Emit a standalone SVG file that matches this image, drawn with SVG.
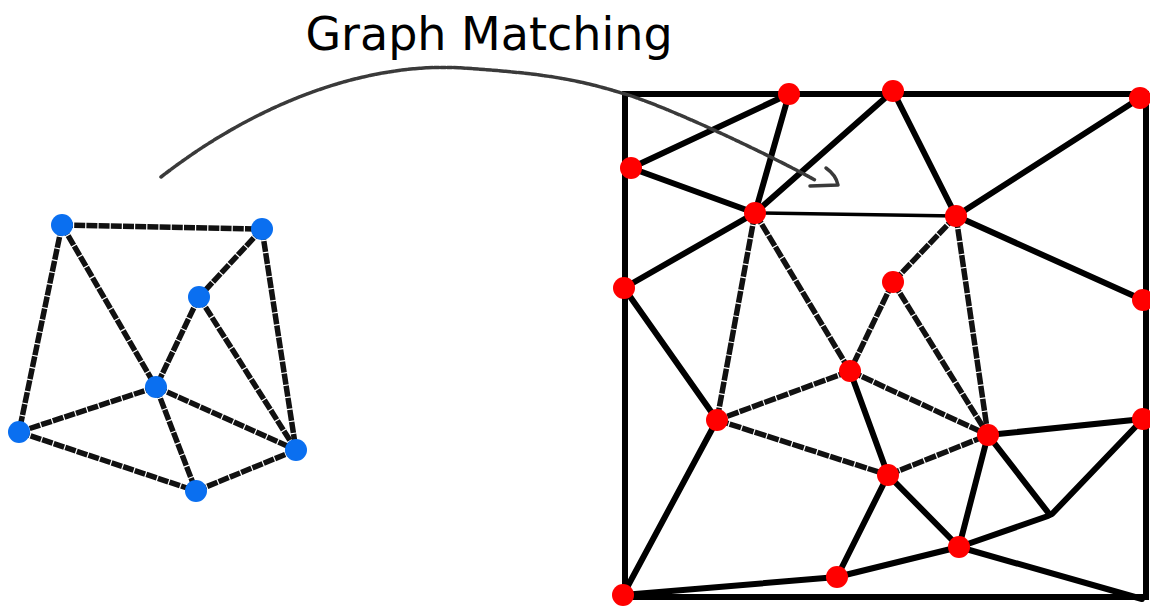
<svg xmlns="http://www.w3.org/2000/svg" width="1150" height="610" viewBox="0 0 1150 610">
<style>
.bg{fill:#fff}
.title{font-family:"DejaVu Sans","Liberation Sans",sans-serif;font-size:46px;fill:#000}
.le{stroke:#111;stroke-width:5.5;stroke-dasharray:11 1.2;fill:none;stroke-linecap:butt}
.re{stroke:#000;stroke-width:6;fill:none;stroke-linecap:round}
.rd{stroke:#111;stroke-width:5.5;stroke-dasharray:12 1.2;fill:none;stroke-linecap:butt}
.frame{stroke:#000;stroke-width:6;fill:none}
.arrow{stroke:#3a3a3a;stroke-width:3.5;stroke-dasharray:5 1.5;fill:none;stroke-linecap:round}
.bn{fill:#0a6ff0}
.rn{fill:#f00}
</style>
<rect class="bg" x="0" y="0" width="1150" height="610"/>
<text class="title" x="489" y="50" text-anchor="middle">Graph Matching</text>

<g id="frame">
<rect class="frame" x="625" y="94" width="521" height="503"/>
</g>

<g id="connectors">
<!-- left graph -->
<line class="le" x1="62" y1="225" x2="262" y2="229"/>
<line class="le" x1="62" y1="225" x2="19" y2="432"/>
<line class="le" x1="62" y1="225" x2="156" y2="387"/>
<line class="le" x1="262" y1="229" x2="199" y2="297"/>
<line class="le" x1="262" y1="229" x2="296" y2="450"/>
<line class="le" x1="199" y1="297" x2="156" y2="387"/>
<line class="le" x1="199" y1="297" x2="296" y2="450"/>
<line class="le" x1="156" y1="387" x2="19" y2="432"/>
<line class="le" x1="156" y1="387" x2="296" y2="450"/>
<line class="le" x1="156" y1="387" x2="196" y2="491"/>
<line class="le" x1="19" y1="432" x2="196" y2="491"/>
<line class="le" x1="196" y1="491" x2="296" y2="450"/>
<!-- right graph -->
<line class="re" x1="631" y1="168" x2="789" y2="94"/>
<line class="re" x1="789" y1="94" x2="755" y2="213"/>
<line class="re" x1="893" y1="91" x2="755" y2="213"/>
<line class="re" x1="631" y1="168" x2="755" y2="213"/>
<line class="re" style="stroke-width:3.5" x1="755" y1="213" x2="956" y2="216"/>
<line class="re" x1="755" y1="213" x2="624" y2="288"/>
<line class="re" x1="624" y1="288" x2="717" y2="420"/>
<line class="rd" x1="755" y1="213" x2="717" y2="420"/>
<line class="rd" x1="755" y1="213" x2="850" y2="371"/>
<line class="re" x1="893" y1="91" x2="956" y2="216"/>
<line class="re" x1="956" y1="216" x2="1140" y2="98"/>
<line class="re" x1="956" y1="216" x2="1143" y2="300"/>
<line class="rd" x1="956" y1="216" x2="893" y2="282"/>
<line class="rd" x1="956" y1="216" x2="988" y2="435"/>
<line class="rd" x1="893" y1="282" x2="850" y2="371"/>
<line class="rd" x1="893" y1="282" x2="988" y2="435"/>
<line class="rd" x1="850" y1="371" x2="717" y2="420"/>
<line class="rd" x1="717" y1="420" x2="888" y2="475"/>
<line class="re" x1="717" y1="420" x2="623" y2="595"/>
<line class="re" x1="850" y1="371" x2="888" y2="475"/>
<line class="rd" x1="850" y1="371" x2="988" y2="435"/>
<line class="re" x1="888" y1="475" x2="837" y2="577"/>
<line class="re" x1="837" y1="577" x2="623" y2="595"/>
<line class="re" x1="837" y1="577" x2="959" y2="547"/>
<line class="re" x1="988" y1="435" x2="1143" y2="419"/>
<line class="re" x1="988" y1="435" x2="959" y2="547"/>
<line class="re" x1="988" y1="435" x2="1050" y2="515"/>
<line class="re" x1="1143" y1="419" x2="1052" y2="514"/>
<line class="re" x1="959" y1="547" x2="1048" y2="516"/>
<line class="rd" x1="888" y1="475" x2="988" y2="435"/>
<line class="re" x1="888" y1="475" x2="959" y2="547"/>
<line class="re" x1="959" y1="547" x2="1142" y2="599"/>
<!-- matching arrow -->
<path class="arrow" d="M161 177 C260 100 370 62 463 68 S585 82 625 94 S760 150 815 180"/>
<path class="arrow" style="stroke-dasharray:none;stroke-width:3.5" d="M810 186 L838 185 M826 168 Q836 175 838 185"/>
</g>

<g id="L1"><circle class="bn" cx="62" cy="225" r="11"/></g>
<g id="L2"><circle class="bn" cx="262" cy="229" r="11"/></g>
<g id="L3"><circle class="bn" cx="199" cy="297" r="11"/></g>
<g id="L4"><circle class="bn" cx="156" cy="387" r="11"/></g>
<g id="L5"><circle class="bn" cx="19" cy="432" r="11"/></g>
<g id="L6"><circle class="bn" cx="296" cy="450" r="11"/></g>
<g id="L7"><circle class="bn" cx="196" cy="491" r="11"/></g>

<g id="R1"><circle class="rn" cx="789" cy="94" r="11"/></g>
<g id="R2"><circle class="rn" cx="893" cy="91" r="11"/></g>
<g id="R3"><circle class="rn" cx="1140" cy="98" r="11"/></g>
<g id="R4"><circle class="rn" cx="631" cy="168" r="11"/></g>
<g id="R5"><circle class="rn" cx="755" cy="213" r="11"/></g>
<g id="R6"><circle class="rn" cx="956" cy="216" r="11"/></g>
<g id="R7"><circle class="rn" cx="624" cy="288" r="11"/></g>
<g id="R8"><circle class="rn" cx="893" cy="282" r="11"/></g>
<g id="R9"><circle class="rn" cx="1143" cy="300" r="11"/></g>
<g id="R10"><circle class="rn" cx="850" cy="371" r="11"/></g>
<g id="R11"><circle class="rn" cx="717" cy="420" r="11"/></g>
<g id="R12"><circle class="rn" cx="988" cy="435" r="11"/></g>
<g id="R13"><circle class="rn" cx="1143" cy="419" r="11"/></g>
<g id="R14"><circle class="rn" cx="888" cy="475" r="11"/></g>
<g id="R15"><circle class="rn" cx="959" cy="547" r="11"/></g>
<g id="R16"><circle class="rn" cx="837" cy="577" r="11"/></g>
<g id="R17"><circle class="rn" cx="623" cy="595" r="11"/></g>
</svg>
